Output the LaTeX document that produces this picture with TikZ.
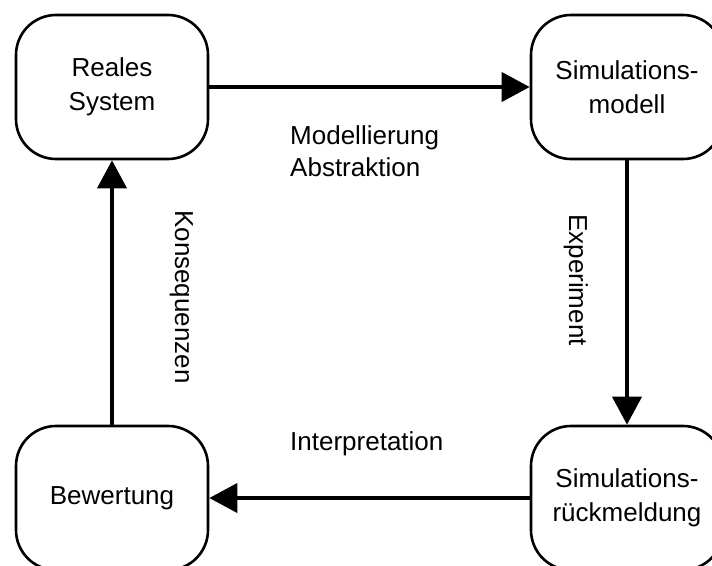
\documentclass[tikz,border=0pt]{standalone}
\usepackage{fontspec}
\setmainfont{Liberation Sans}
\usetikzlibrary{arrows.meta}
\begin{document}
\begin{tikzpicture}[x=1pt,y=-1pt,
  stage/.style={draw=black, line width=2.6pt, rounded corners=40pt,
    minimum width=192pt, minimum height=144pt, align=center, inner sep=0pt,
    font=\fontsize{26}{34}\selectfont},
  flow/.style={line width=4pt, -{Triangle[length=28pt,width=29pt]}},
  lbl/.style={inner sep=0pt, font=\fontsize{26}{32}\selectfont}]
\useasboundingbox (0,0) rectangle (712,565);
\clip (0,0) rectangle (712,565);
% the four stages of the simulation cycle
\node[stage] (real) at (112,87) {Reales\\System};
\node[stage] (model) at (627,87) {Simulations-\\modell};
\node[stage] (feedback) at (627,498) {Simulations-\\rückmeldung};
\node[stage] (eval) at (112,498) {Bewertung};
% connectors
\draw[flow] (real) -- (model);
\draw[flow] (model) -- (feedback);
\draw[flow] (feedback) -- (eval);
\draw[flow] (eval) -- (real);
% connector labels
\node[lbl, anchor=west, align=left] (absLbl) at (290,151) {Modellierung\\Abstraktion};
\node[lbl, anchor=base west] (intLbl) at (290,450) {Interpretation};
\node[lbl, rotate=-90, anchor=base] (konLbl) at (175,297) {Konsequenzen};
\node[lbl, rotate=-90, anchor=base] (expLbl) at (569,280) {Experiment};
\end{tikzpicture}
\end{document}
